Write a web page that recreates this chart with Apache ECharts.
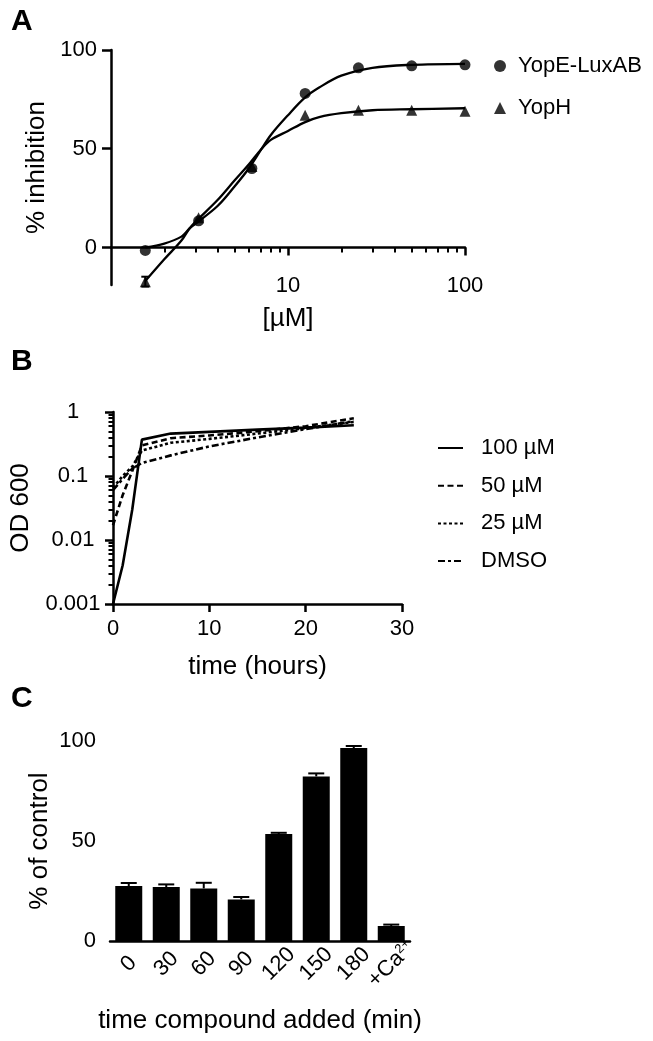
<!DOCTYPE html>
<html><head><meta charset="utf-8">
<script src="https://cdn.jsdelivr.net/npm/echarts@6/dist/echarts.min.js"></script>
<style>html,body{margin:0;padding:0;background:#fff}#c{width:653px;height:1041px}</style>
</head><body><div id="c"></div>
<script>
// ---------- Panel A: dose response ----------
const concA = [1.5625, 3.125, 6.25, 12.5, 25, 50, 100];
const yopE = [-1.5, 13.5, 40, 78, 91, 92, 92.5];
const yopH = [-17.3, 15, 41, 67, 69.5, 69.5, 69];
const yopHErr = [2.5, 0, 0, 0, 0, 0, 0];
// fitted curves
const fitX = [1.5625, 2, 2.5, 2.77, 3, 4, 5, 6, 7.1, 8, 10, 12.5, 15, 20, 30, 50, 100];
const fitE = [0, 2, 5.5, 9.5, 12, 21, 31, 40, 50, 57, 67, 76, 81, 87, 91, 92.5, 93];
const fitH = [-17, -6, 3.5, 9.5, 13, 24, 34, 42, 50, 54.5, 59, 63.5, 66, 68, 69.5, 70, 70.5];
const majorTicksA = [10, 100];
const minorTicksA = [2, 3, 4, 5, 6, 7, 8, 9, 20, 30, 40, 50, 60, 70, 80, 90];
const yTicksA = [0, 50, 100];

// ---------- Panel B: growth ----------
const timeB = [0, 1, 2, 3, 6, 10, 15, 20, 25];
const od100 = [0.001, 0.004, 0.03, 0.37, 0.46, 0.49, 0.53, 0.57, 0.62];
const od50 = [0.017, 0.05, 0.12, 0.30, 0.39, 0.43, 0.50, 0.60, 0.80];
const od25 = [0.065, 0.10, 0.14, 0.25, 0.33, 0.38, 0.46, 0.56, 0.70];
const odDMSO = [0.06, 0.09, 0.13, 0.16, 0.21, 0.29, 0.40, 0.54, 0.72];
const namesB = ['100 µM', '50 µM', '25 µM', 'DMSO'];
const majorTicksB = [0.001, 0.01, 0.1, 1];
const minorTicksB = [0.002, 0.003, 0.004, 0.005, 0.006, 0.007, 0.008, 0.009,
  0.02, 0.03, 0.04, 0.05, 0.06, 0.07, 0.08, 0.09,
  0.2, 0.3, 0.4, 0.5, 0.6, 0.7, 0.8, 0.9];

// ---------- Panel C: bars ----------
const catsC = ['0', '30', '60', '90', '120', '150', '180', '+Ca2+'];
const valsC = [27.5, 27, 26.3, 20.8, 53.5, 82.3, 96.5, 7.5];
const errC = [1.5, 1.3, 2.8, 1.2, 0.6, 1.5, 1, 0.7];

const FONT = '"Liberation Sans", Arial, Helvetica, sans-serif';
const BLACK = '#000';
const axLine = { color: BLACK, width: 2.5 };
const tickStyle = { color: BLACK, width: 2.5 };
const lbl = { fontSize: 22, color: BLACK, fontFamily: FONT };
const nameStyle = { fontSize: 26, color: BLACK, fontFamily: FONT };
const letterStyle = { fontSize: 30, fontWeight: 'bold', color: BLACK, fontFamily: FONT };

function errRenderer(capHalf, upperOnly) {
  return function (params, api) {
    const x = api.value(0), v = api.value(1), e = api.value(2);
    if (!e) return null;
    const top = api.coord([x, v + e]);
    const bot = api.coord([x, upperOnly ? v : v - e]);
    const st = { stroke: BLACK, lineWidth: 2 };
    const children = [
      { type: 'line', shape: { x1: top[0], y1: top[1], x2: bot[0], y2: bot[1] }, style: st },
      { type: 'line', shape: { x1: top[0] - capHalf, y1: top[1], x2: top[0] + capHalf, y2: top[1] }, style: st }
    ];
    if (!upperOnly) children.push({ type: 'line', shape: { x1: bot[0] - capHalf, y1: bot[1], x2: bot[0] + capHalf, y2: bot[1] }, style: st });
    return { type: 'group', children };
  };
}

const chart = echarts.init(document.getElementById('c'));
const zip = (xs, ys) => xs.map((x, i) => [x, ys[i]]);

const option = {
  animation: false,
  backgroundColor: '#fff',
  color: [BLACK],
  textStyle: { fontFamily: FONT, color: BLACK },
  title: [
    { text: 'A', left: 6, top: 2, textStyle: letterStyle },
    { text: 'B', left: 6, top: 342, textStyle: letterStyle },
    { text: 'C', left: 6, top: 679, textStyle: letterStyle }
  ],
  legend: [
    { data: ['YopE-LuxAB', 'YopH'], orient: 'vertical', left: 494, top: 55, padding: 0,
      itemWidth: 12, itemHeight: 12, itemGap: 20,
      textStyle: { fontSize: 22, color: BLACK, fontFamily: FONT, padding: [0, 0, 0, 7] } },
    { data: namesB, orient: 'vertical', left: 437, top: 437, padding: 0,
      itemWidth: 25, itemHeight: 14, itemGap: 15.7,
      itemStyle: { opacity: 0 },
      textStyle: { fontSize: 22, color: BLACK, fontFamily: FONT, padding: [0, 0, 0, 13] } }
  ],
  grid: [
    { left: 111, top: 50, width: 354, height: 235 },
    { left: 113, top: 412, width: 289, height: 192 },
    { left: 110, top: 741, width: 300, height: 200 }
  ],
  xAxis: [
    { gridIndex: 0, type: 'log', logBase: 10, min: 1, max: 100, position: 'bottom',
      axisLine: { onZero: true, onZeroAxisIndex: 0, lineStyle: axLine },
      axisTick: { customValues: majorTicksA, length: 8, lineStyle: tickStyle },
      axisLabel: Object.assign({ customValues: majorTicksA, margin: -10 }, lbl),
      splitLine: { show: false }, minorTick: { show: false },
      name: '[µM]', nameLocation: 'middle', nameGap: 21, nameTextStyle: nameStyle },
    { gridIndex: 0, type: 'log', logBase: 10, min: 1, max: 100, position: 'bottom',
      axisLine: { show: false, onZero: true, onZeroAxisIndex: 0 },
      axisTick: { customValues: minorTicksA, length: 5, lineStyle: { color: BLACK, width: 2 } },
      axisLabel: { show: false }, splitLine: { show: false } },
    { gridIndex: 1, type: 'value', min: 0, max: 30, interval: 10,
      axisLine: { onZero: false, lineStyle: axLine },
      axisTick: { length: 8, lineStyle: tickStyle },
      axisLabel: Object.assign({ margin: 14 }, lbl),
      splitLine: { show: false },
      name: 'time (hours)', nameLocation: 'middle', nameGap: 50, nameTextStyle: nameStyle },
    { gridIndex: 2, type: 'category', data: catsC,
      axisLine: { onZero: false, lineStyle: axLine },
      axisTick: { alignWithLabel: true, length: 8, lineStyle: tickStyle },
      axisLabel: Object.assign({ interval: 0, rotate: 45, align: 'center', verticalAlign: 'middle', margin: 23,
        formatter: v => v === '+Ca2+' ? '{b|+Ca}{sup|2+}' : v,
        rich: { b: { fontSize: 22, fontFamily: FONT, color: BLACK }, sup: { fontSize: 13, fontFamily: FONT, color: BLACK, verticalAlign: 'top' } } }, lbl),
      name: 'time compound added (min)', nameLocation: 'middle', nameGap: 67, nameTextStyle: nameStyle }
  ],
  yAxis: [
    { gridIndex: 0, type: 'value', min: -19, max: 100, position: 'left',
      axisLine: { onZero: false, lineStyle: axLine },
      axisTick: { customValues: yTicksA, length: 9, lineStyle: tickStyle },
      axisLabel: Object.assign({ customValues: yTicksA, margin: 14 }, lbl),
      splitLine: { show: false },
      name: '% inhibition', nameLocation: 'middle', nameGap: 57, nameTextStyle: nameStyle },
    { gridIndex: 1, type: 'log', logBase: 10, min: 0.001, max: 1, position: 'left',
      axisLine: { onZero: false, lineStyle: axLine },
      axisTick: { customValues: majorTicksB, length: 8, lineStyle: tickStyle },
      axisLabel: Object.assign({ customValues: majorTicksB, margin: 40, align: 'center',
        formatter: v => String(+(+v).toPrecision(3)) }, lbl),
      splitLine: { show: false },
      name: 'OD 600', nameLocation: 'middle', nameGap: 79, nameTextStyle: nameStyle },
    { gridIndex: 1, type: 'log', logBase: 10, min: 0.001, max: 1, position: 'left',
      axisLine: { show: false, onZero: false },
      axisTick: { customValues: minorTicksB, length: 4.5, lineStyle: { color: BLACK, width: 2 } },
      axisLabel: { show: false }, splitLine: { show: false } },
    { gridIndex: 2, type: 'value', min: 0, max: 100, interval: 50, position: 'left',
      axisLine: { onZero: false, lineStyle: axLine },
      axisTick: { length: 9, lineStyle: tickStyle },
      axisLabel: Object.assign({ margin: 14 }, lbl),
      splitLine: { show: false },
      name: '% of control', nameLocation: 'middle', nameGap: 57, nameTextStyle: nameStyle }
  ],
  series: [
    { name: 'YopE-LuxAB fit', type: 'line', xAxisIndex: 0, yAxisIndex: 0, data: zip(fitX, fitE),
      smooth: 0.35, symbol: 'none', lineStyle: { color: BLACK, width: 2.3 }, z: 2 },
    { name: 'YopH fit', type: 'line', xAxisIndex: 0, yAxisIndex: 0, data: zip(fitX, fitH),
      smooth: 0.35, symbol: 'none', lineStyle: { color: BLACK, width: 2.3 }, z: 2 },
    { name: 'YopE-LuxAB', type: 'scatter', xAxisIndex: 0, yAxisIndex: 0, data: zip(concA, yopE),
      symbol: 'circle', symbolSize: 11, itemStyle: { color: BLACK }, z: 3 },
    { name: 'YopH', type: 'scatter', xAxisIndex: 0, yAxisIndex: 0, data: zip(concA, yopH),
      symbol: 'triangle', symbolSize: 11, itemStyle: { color: BLACK }, z: 3 },
    { name: 'YopH error', type: 'custom', xAxisIndex: 0, yAxisIndex: 0,
      data: concA.map((c, i) => [c, yopH[i], yopHErr[i]]), renderItem: errRenderer(4, false), z: 4 },

    { name: namesB[0], type: 'line', xAxisIndex: 2, yAxisIndex: 1, data: zip(timeB, od100), symbol: 'none',
      itemStyle: { color: BLACK }, lineStyle: { color: BLACK, width: 2.6, type: 'solid' } },
    { name: namesB[1], type: 'line', xAxisIndex: 2, yAxisIndex: 1, data: zip(timeB, od50), symbol: 'none',
      itemStyle: { color: BLACK }, lineStyle: { color: BLACK, width: 2.6, type: [6, 3.5] } },
    { name: namesB[2], type: 'line', xAxisIndex: 2, yAxisIndex: 1, data: zip(timeB, od25), symbol: 'none',
      itemStyle: { color: BLACK }, lineStyle: { color: BLACK, width: 2.6, type: [3, 2.5] } },
    { name: namesB[3], type: 'line', xAxisIndex: 2, yAxisIndex: 1, data: zip(timeB, odDMSO), symbol: 'none',
      itemStyle: { color: BLACK }, lineStyle: { color: BLACK, width: 2.6, type: [7, 3, 3, 3] } },

    { name: 'percent of control', type: 'bar', xAxisIndex: 3, yAxisIndex: 3, data: valsC, barWidth: 27,
      itemStyle: { color: BLACK } },
    { name: 'C error', type: 'custom', xAxisIndex: 3, yAxisIndex: 3,
      data: valsC.map((v, i) => [i, v, errC[i]]), renderItem: errRenderer(8, true), z: 5 }
  ]
};
chart.setOption(option);
</script>
</body></html>
